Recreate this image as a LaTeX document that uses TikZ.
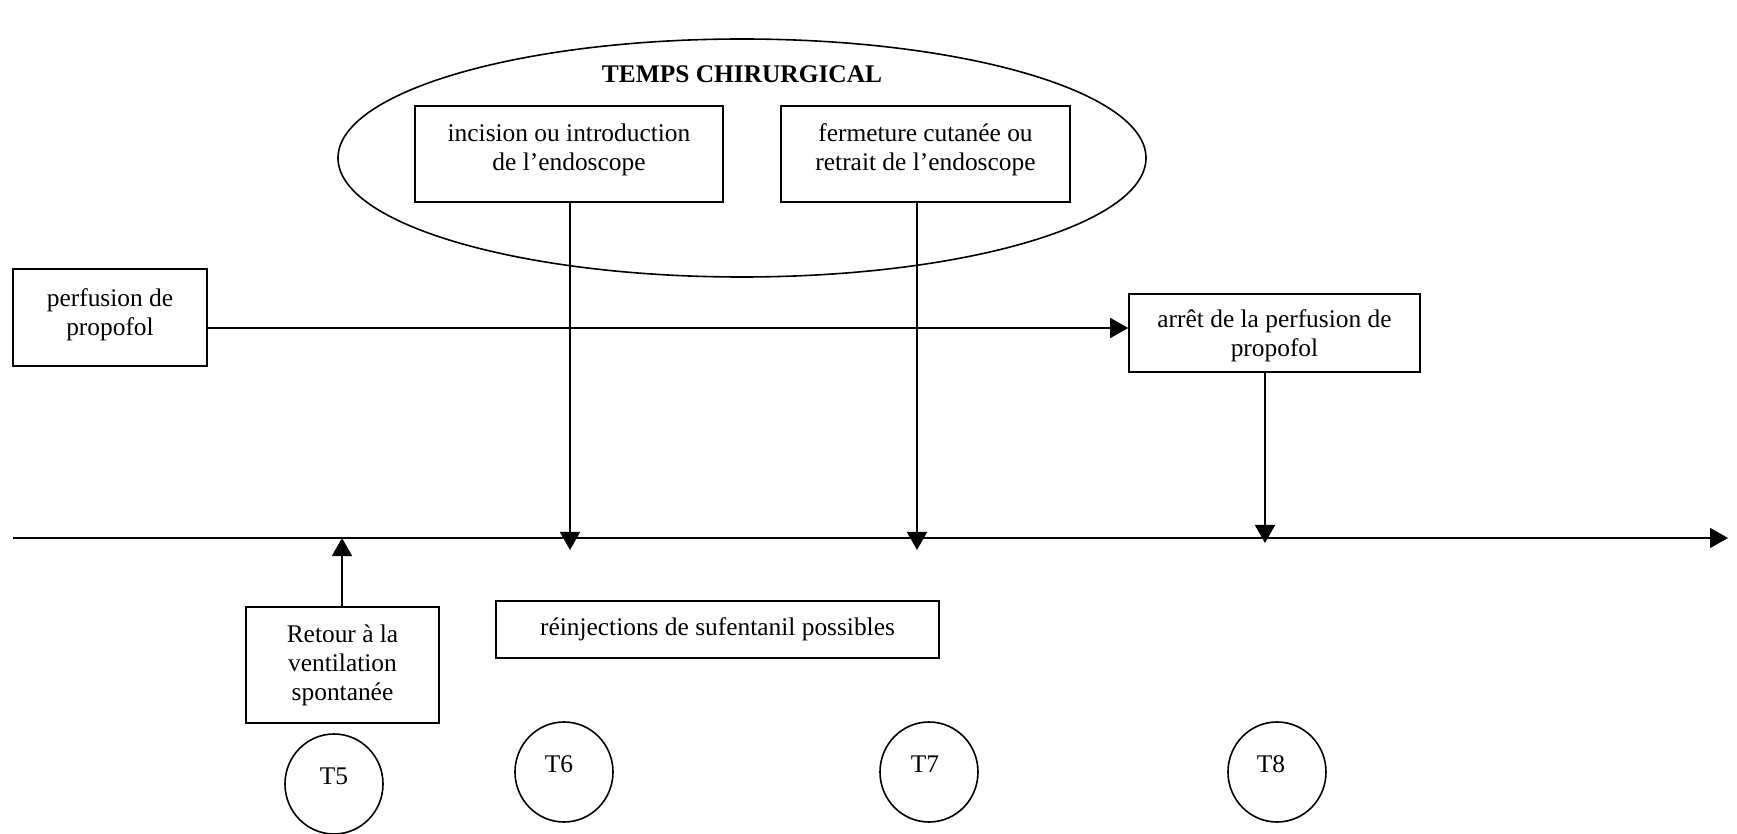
\documentclass[tikz,border=0pt]{standalone}
\usepackage{fontspec}
\setmainfont{Liberation Serif}
\usepackage{tikz}
\usetikzlibrary{arrows.meta,shapes.geometric}

\begin{document}
\begin{tikzpicture}[x=0.5pt,y=-0.5pt,
    line width=0.8pt,
    font=\fontsize{12.7}{14.5}\selectfont,
    box/.style={draw,rectangle,align=center,inner sep=2pt},
    tcirc/.style={draw,ellipse,minimum width=49pt,minimum height=50pt,inner sep=0pt,text height=8.5pt,text depth=8pt},
    arr/.style={-{Triangle[length=9pt,width=10pt]}}]
    \useasboundingbox (0,0) rectangle (1737,834);

    % Surgical time
    \draw (742,158) ellipse (404 and 119);
    \node[font=\fontsize{12.7}{14.5}\selectfont\bfseries] (chir) at (742,74) {TEMPS CHIRURGICAL};

    % Boxes
    \node[box,minimum width=154pt,minimum height=48pt,text depth=7pt] (incision) at (569,154) {incision ou introduction\\de l'endoscope};
    \node[box,minimum width=144.5pt,minimum height=48pt,text depth=7pt] (fermeture) at (925.5,154) {fermeture cutanée ou\\retrait de l'endoscope};
    \node[box,minimum width=97pt,minimum height=48.5pt,text depth=5.6pt] (perf) at (110,317.5) {perfusion de\\propofol};
    \node[box,minimum width=145.5pt,minimum height=39pt,text depth=-1pt] (arret) at (1274.5,333) {arrêt de la perfusion de\\propofol};
    \node[box,minimum width=96.5pt,minimum height=58pt] (retour) at (342.5,665) {Retour à la\\ventilation\\spontanée};
    \node[box,minimum width=221.5pt,minimum height=28.5pt] (reinj) at (717.5,629.5) {réinjections de sufentanil possibles};

    % Time axis
    \coordinate (t0) at (13,538);
    \coordinate (tend) at (1728,538);
    \draw[arr] (t0) -- (tend);

    % Arrows
    \draw[arr] (perf.east |- 0,328) -- (arret.west |- 0,328);
    \draw[arr] (570,0 |- incision.south) -- (570,550);
    \draw[arr] (917,0 |- fermeture.south) -- (917,550);
    \draw[arr] (1265,0 |- arret.south) -- (1265,543);
    \draw[arr] (342,0 |- retour.north) -- (342,538);

    % Times
    \node[tcirc] (T5) at (334,784) {T5};
    \node[tcirc] (T6) at (564,772) {\hspace*{-5pt}T6};
    \node[tcirc] (T7) at (929,772) {\hspace*{-4pt}T7};
    \node[tcirc] (T8) at (1277,772) {\hspace*{-6pt}T8};
\end{tikzpicture}
\end{document}
